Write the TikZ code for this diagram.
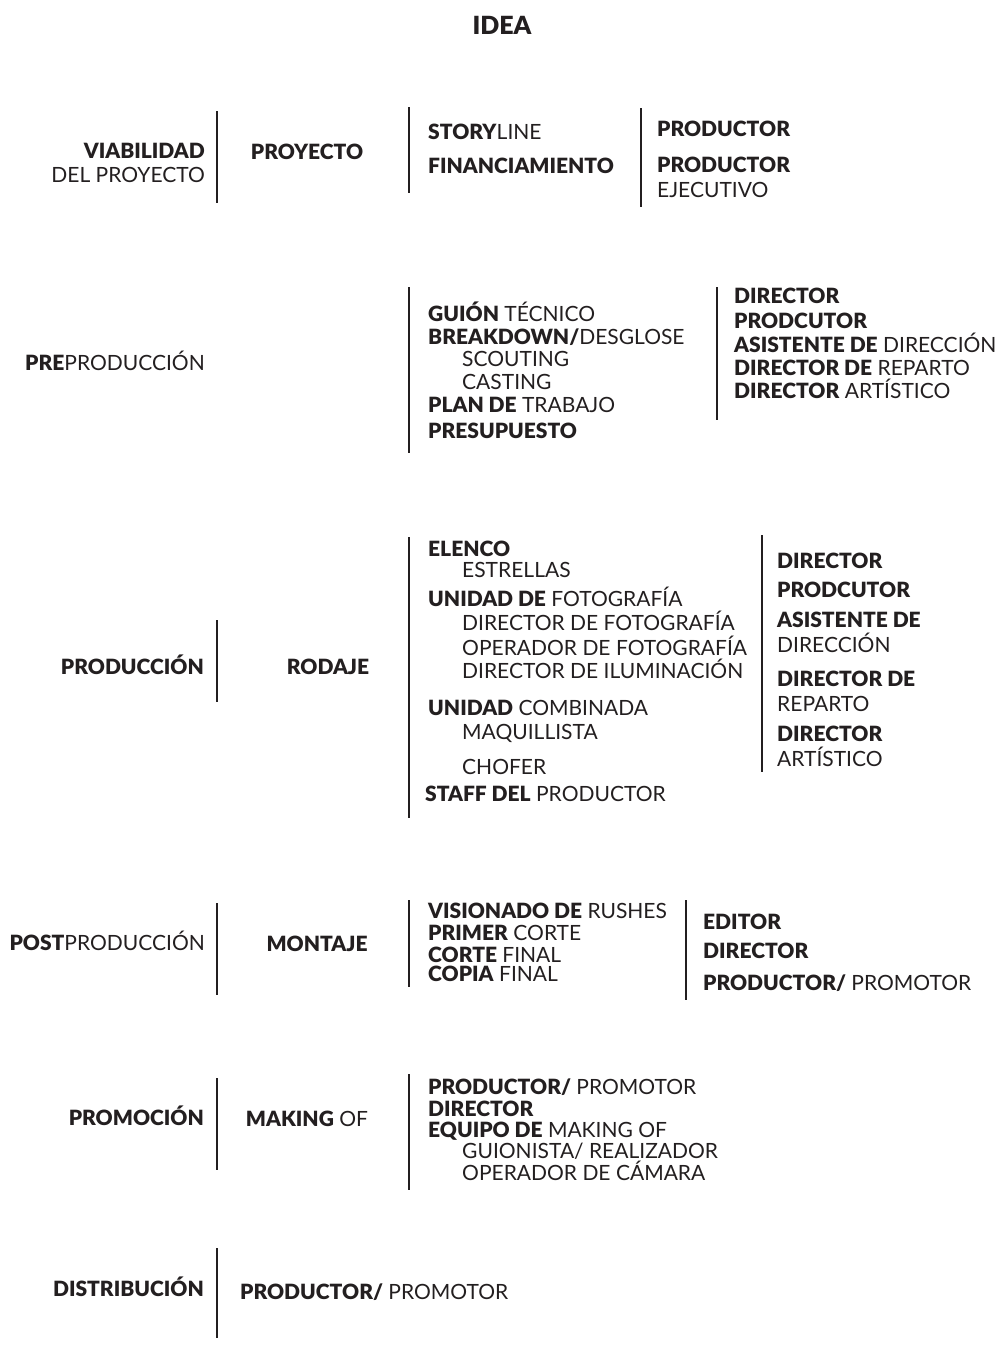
\documentclass[tikz,border=0pt]{standalone}
\usepackage{fontspec}
\setmainfont{Lato}[BoldFont={Lato Black}]
\usepackage{xcolor}
\usetikzlibrary{positioning}
\definecolor{ink}{HTML}{231F20}
\newcommand{\hb}[1]{\textbf{#1}}

\begin{document}
\begin{tikzpicture}[x=1pt,y=-1pt,
    txt/.style={inner sep=0pt, text=ink, font=\fontsize{21}{24}\selectfont},
    lw/.style={txt, anchor=base west},
    le/.style={txt, anchor=base east},
    lc/.style={txt, anchor=base},
    rule/.style={draw=ink, line width=2.6pt}]
  \useasboundingbox[fill=white] (0,0) rectangle (1003,1346);

  \node[lc, font=\fontsize{25}{28}\selectfont\bfseries] (idea) at (502,35) {IDEA};

  % viabilidad
  \node[le] (viab1) at (205,158) {\hb{VIABILIDAD}};
  \node[le] (viab2) at (205,182) {DEL PROYECTO};
  \node[lc] (proy) at (307,159) {\hb{PROYECTO}};
  \node[lw] (story) at (428,139) {\hb{STORY}LINE};
  \node[lw] (finan) at (428,173) {\hb{FINANCIAMIENTO}};
  \node[lw] (prod1) at (657,136) {\hb{PRODUCTOR}};
  \node[lw] (prod2) at (657,172) {\hb{PRODUCTOR}};
  \node[lw] (ejec) at (657,197) {EJECUTIVO};
  \draw[rule] (217,111) -- (217,203);
  \draw[rule] (409,107) -- (409,193);
  \draw[rule] (641,108) -- (641,207);

  % preproduccion
  \node[lw] (pre) at (25,370) {\hb{PRE}PRODUCCIÓN};
  \node[lw] (guion) at (428,321) {\hb{GUIÓN} TÉCNICO};
  \node[lw] (break) at (428,344) {\hb{BREAKDOWN/}DESGLOSE};
  \node[lw] (scout) at (462,366) {SCOUTING};
  \node[lw] (cast) at (462,389) {CASTING};
  \node[lw] (plan) at (428,412) {\hb{PLAN DE} TRABAJO};
  \node[lw] (presu) at (428,438) {\hb{PRESUPUESTO}};
  \node[lw] (pdir) at (734,303) {\hb{DIRECTOR}};
  \node[lw] (pprod) at (734,328) {\hb{PRODCUTOR}};
  \node[lw] (pasis) at (734,352) {\hb{ASISTENTE DE} DIRECCIÓN};
  \node[lw] (prep) at (734,375) {\hb{DIRECTOR DE} REPARTO};
  \node[lw] (part) at (734,398) {\hb{DIRECTOR} ARTÍSTICO};
  \draw[rule] (409,287) -- (409,453);
  \draw[rule] (717,287) -- (717,420);

  % produccion
  \node[le] (produ) at (204,674) {\hb{PRODUCCIÓN}};
  \node[lc] (rodaje) at (328,674) {\hb{RODAJE}};
  \node[lw] (elenco) at (428,556) {\hb{ELENCO}};
  \node[lw] (estre) at (462,577) {ESTRELLAS};
  \node[lw] (ufoto) at (428,606) {\hb{UNIDAD DE} FOTOGRAFÍA};
  \node[lw] (dfoto) at (462,630) {DIRECTOR DE FOTOGRAFÍA};
  \node[lw] (ofoto) at (462,655) {OPERADOR DE FOTOGRAFÍA};
  \node[lw] (dilum) at (462,678) {DIRECTOR DE ILUMINACIÓN};
  \node[lw] (ucomb) at (428,715) {\hb{UNIDAD} COMBINADA};
  \node[lw] (maqui) at (462,739) {MAQUILLISTA};
  \node[lw] (chofer) at (462,774) {CHOFER};
  \node[lw] (staff) at (425,801) {\hb{STAFF DEL} PRODUCTOR};
  \node[lw] (rdir) at (777,568) {\hb{DIRECTOR}};
  \node[lw] (rprod) at (777,597) {\hb{PRODCUTOR}};
  \node[lw] (rasis1) at (777,627) {\hb{ASISTENTE DE}};
  \node[lw] (rasis2) at (777,652) {DIRECCIÓN};
  \node[lw] (rrep1) at (777,686) {\hb{DIRECTOR DE}};
  \node[lw] (rrep2) at (777,711) {REPARTO};
  \node[lw] (rart1) at (777,741) {\hb{DIRECTOR}};
  \node[lw] (rart2) at (777,766) {ARTÍSTICO};
  \draw[rule] (217,620) -- (217,702);
  \draw[rule] (409,537) -- (409,818);
  \draw[rule] (762,535) -- (762,772);

  % postproduccion
  \node[le] (post) at (205,950) {\hb{POST}PRODUCCIÓN};
  \node[lc] (montaje) at (317,951) {\hb{MONTAJE}};
  \node[lw] (rushes) at (428,918) {\hb{VISIONADO DE} RUSHES};
  \node[lw] (primer) at (428,940) {\hb{PRIMER} CORTE};
  \node[lw] (cfinal) at (428,962) {\hb{CORTE} FINAL};
  \node[lw] (copia) at (428,981) {\hb{COPIA} FINAL};
  \node[lw] (editor) at (703,929) {\hb{EDITOR}};
  \node[lw] (mdir) at (703,958) {\hb{DIRECTOR}};
  \node[lw] (mprom) at (703,990) {\hb{PRODUCTOR/} PROMOTOR};
  \draw[rule] (217,903) -- (217,995);
  \draw[rule] (409,900) -- (409,987);
  \draw[rule] (686,900) -- (686,1000);

  % promocion
  \node[le] (promo) at (204,1125) {\hb{PROMOCIÓN}};
  \node[lc] (making) at (307,1126) {\hb{MAKING} OF};
  \node[lw] (kprom) at (428,1094) {\hb{PRODUCTOR/} PROMOTOR};
  \node[lw] (kdir) at (428,1116) {\hb{DIRECTOR}};
  \node[lw] (equipo) at (428,1137) {\hb{EQUIPO DE} MAKING OF};
  \node[lw] (guioni) at (462,1158) {GUIONISTA/ REALIZADOR};
  \node[lw] (camara) at (462,1180) {OPERADOR DE CÁMARA};
  \draw[rule] (217,1078) -- (217,1170);
  \draw[rule] (409,1074) -- (409,1190);

  % distribucion
  \node[le] (distri) at (204,1296) {\hb{DISTRIBUCIÓN}};
  \node[lw] (dprom) at (240,1299) {\hb{PRODUCTOR/} PROMOTOR};
  \draw[rule] (217,1248) -- (217,1338);
\end{tikzpicture}
\end{document}
